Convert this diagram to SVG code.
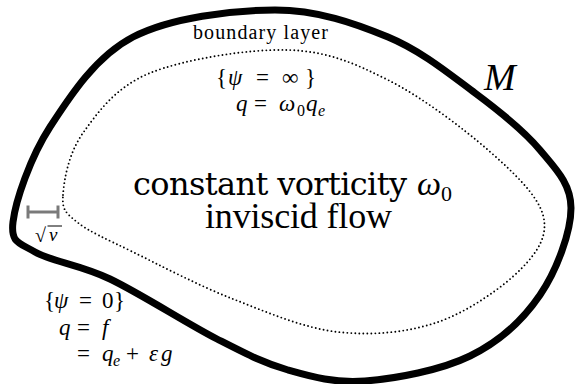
<svg xmlns="http://www.w3.org/2000/svg" width="576" height="384" viewBox="0 0 576 384">
<style>
.i{font-style:italic}
.m{font-size:23px}
.s{font-size:16px}
</style>
<rect width="576" height="384" fill="#fff"/>
<g id="domain">
<path d="M13,222 C15.5,201.2 30,157.8 50,127 C70,96.2 95.5,56.5 133,37 C170.5,17.5 232.5,10 275,10 C317.5,10 354.7,23.2 388,37 C421.3,50.8 449.7,74.2 475,93 C500.3,111.8 524,130.8 540,150 C556,169.2 571,183.8 571,208 C571,232.2 556.8,270.3 540,295 C523.2,319.7 499.2,341.7 470,356 C440.8,370.3 395.3,378.7 365,381 C334.7,383.3 312.7,377 288,370 C263.3,363 246.7,354.2 217,339 C187.3,323.8 140.3,293.5 110,279 C79.7,264.5 51.2,261.5 35,252 C18.8,242.5 10.5,242.8 13,222 Z" fill="none" stroke="#000" stroke-width="7" stroke-linejoin="round"/>
</g>
<g id="boundary-layer-edge">
<path d="M63,195 C64,180.2 68.5,153.3 83,133 C97.5,112.7 115.8,86.8 150,73 C184.2,59.2 248.3,48.8 288,50 C327.7,51.2 354.7,63.3 388,80 C421.3,96.7 462.2,127.5 488,150 C513.8,172.5 537.5,195.2 543,215 C548.5,234.8 538.5,251.2 521,269 C503.5,286.8 468.5,311.5 438,322 C407.5,332.5 372.2,335.8 338,332 C303.8,328.2 267.2,312.3 233,299 C198.8,285.7 159,264.8 133,252 C107,239.2 88.7,231.5 77,222 C65.3,212.5 62,209.8 63,195 Z" fill="none" stroke="#000" stroke-width="1.9" stroke-linecap="round" stroke-dasharray="0 4"/>
</g>
<g id="scale-bar" stroke="#7a7a7a" stroke-width="3" fill="none">
<line x1="27" y1="212" x2="59" y2="212"/>
<line x1="28" y1="205.5" x2="28" y2="218.5"/>
<line x1="58" y1="205.5" x2="58" y2="218.5"/>
</g>
<g id="sqrt-nu" font-family="Liberation Serif">
<text x="35" y="242" font-size="20">√</text>
<line x1="47.5" y1="226" x2="62" y2="226" stroke="#000" stroke-width="1"/>
<text class="i" x="49" y="241" font-size="19">ν</text>
</g>
<g id="labels">
<text font-family="Times New Roman" x="193" y="39" font-size="20" textLength="135" lengthAdjust="spacing">boundary layer</text>
<text font-family="DejaVu Serif" x="133" y="195" font-size="32" textLength="274" lengthAdjust="spacing">constant vorticity</text>
<text font-family="Liberation Serif" class="i" x="417" y="195" font-size="34">ω</text>
<text font-family="Liberation Serif" x="441" y="201" font-size="22">0</text>
<text font-family="Liberation Serif" x="205" y="228" font-size="36" textLength="187" lengthAdjust="spacing">inviscid flow</text>
<text font-family="serif" class="i" x="484" y="90" font-size="38">M</text>
<g font-family="Liberation Serif">
<text class="m"><tspan x="216" y="85">{</tspan><tspan class="i" x="228" y="85">ψ</tspan><tspan x="256" y="85">=</tspan><tspan x="282" y="85">∞</tspan><tspan x="305" y="85">}</tspan></text>
<text class="m"><tspan class="i" x="236" y="111">q</tspan><tspan x="254" y="111">=</tspan><tspan class="i" x="279" y="111">ω</tspan><tspan class="s" x="297" y="116">0</tspan><tspan class="i" x="306" y="111">q</tspan><tspan class="s i" x="318" y="116">e</tspan></text>
<text class="m"><tspan x="44" y="308">{</tspan><tspan class="i" x="54" y="308">ψ</tspan><tspan x="79" y="308">=</tspan><tspan x="102" y="308">0</tspan><tspan x="114" y="308">}</tspan></text>
<text class="m"><tspan class="i" x="59" y="335">q</tspan><tspan x="77" y="335">=</tspan><tspan class="i" x="102" y="335">f</tspan></text>
<text class="m"><tspan x="77" y="361">=</tspan><tspan class="i" x="102" y="361">q</tspan><tspan class="s i" x="113" y="366">e</tspan><tspan x="126" y="361">+</tspan><tspan class="i" x="149" y="361">ε</tspan><tspan class="i" x="161" y="361">g</tspan></text>
</g>
</g>
</svg>
